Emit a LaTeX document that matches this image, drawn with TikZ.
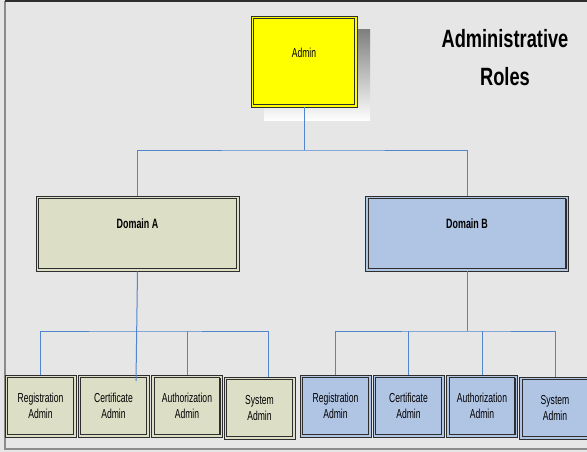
\documentclass[tikz,border=0pt]{standalone}
\usepackage{fontspec}
\setmainfont{Liberation Sans}
\newfontfamily\condfont[FakeStretch=0.66]{Liberation Sans}
\newfontfamily\titlefont[FakeStretch=0.73]{Liberation Sans}
\definecolor{bg}{HTML}{E6E6E6}
\definecolor{frame}{HTML}{2E2E2E}
\definecolor{wire}{HTML}{5286CC}
\definecolor{adminfill}{HTML}{FFFF00}
\definecolor{beige}{HTML}{DCDEC6}
\definecolor{steel}{HTML}{B0C4E4}
\definecolor{shade}{HTML}{C8C8C8}
\tikzset{
  orgbox/.style={rectangle, draw=frame, line width=0.8pt, inner sep=0pt,
    align=center, text=black,
    path picture={
      \coordinate (ppa) at ([shift={(2.6pt,2.6pt)}]path picture bounding box.south west);
      \coordinate (ppb) at ([shift={(-2.6pt,-2.6pt)}]path picture bounding box.north east);
      \draw[frame, line width=0.9pt] (ppa) rectangle (ppb);
      \draw[frame, line width=1.5pt] (ppa) -- (ppa -| ppb) -- (ppb);
    }},
  leafbox/.style={orgbox, minimum width=71pt, minimum height=62pt,
    font=\condfont\fontsize{13}{16}\selectfont},
  domainbox/.style={orgbox, minimum width=203pt, minimum height=75pt},
  conn/.style={draw=wire, line width=1pt},
  lbl/.style={inner sep=0pt, text=black}
}
\begin{document}
\begin{tikzpicture}[x=1pt, y=-1pt]
  \useasboundingbox (0,0) rectangle (587,452);
  \clip (0,0) rectangle (587,452);
  % page background and frame
  \fill[bg] (0,0) rectangle (587,452);
  \draw[black!45, line width=1.5pt] (5,1) -- (5,449) -- (590,449);
  \draw[frame, line width=1.5pt] (5,1) -- (590,1);

  % heading
  \node[lbl, anchor=base, font=\titlefont\bfseries\fontsize{25}{30}\selectfont] (title1) at (505,48) {Administrative};
  \node[lbl, anchor=base, font=\titlefont\bfseries\fontsize{25}{30}\selectfont] (title2) at (505,85) {Roles};

  % top role with drop shadow
  \fill[shade] (264,30) rectangle (370,121);
  \node[orgbox, fill=adminfill, minimum width=106pt, minimum height=91pt] (admin) at (304,61.5) {};
  \node[lbl, font=\condfont\fontsize{13}{16}\selectfont] (adminL) at ([yshift=8.5pt]admin.center) {Admin};

  % domains
  \node[domainbox, fill=beige] (domA) at (137.5,233.5) {};
  \node[lbl, font=\condfont\bfseries\fontsize{13.5}{16}\selectfont] (domAL) at ([yshift=9.5pt]domA.center) {Domain A};
  \node[domainbox, fill=steel] (domB) at (467,233.5) {};
  \node[lbl, font=\condfont\bfseries\fontsize{13.5}{16}\selectfont] (domBL) at ([yshift=9.5pt]domB.center) {Domain B};

  % role boxes under Domain A
  \node[leafbox, fill=beige] (regA)  at (40.5,406)  {Registration\\Admin};
  \node[leafbox, fill=beige] (certA) at (113.5,406) {Certificate\\Admin};
  \node[leafbox, fill=beige] (authA) at (187,406)   {Authorization\\Admin};
  \node[leafbox, fill=beige] (sysA)  at (259.5,408) {System\\Admin};

  % role boxes under Domain B
  \node[leafbox, fill=steel] (regB)  at (335.5,406) {Registration\\Admin};
  \node[leafbox, fill=steel] (certB) at (408.5,406) {Certificate\\Admin};
  \node[leafbox, fill=steel] (authB) at (482,406)   {Authorization\\Admin};
  \node[leafbox, fill=steel] (sysB)  at (555,408)   {System\\Admin};

  % bus points
  \coordinate (busTop) at (304,150);
  \coordinate (busA) at (137,331);
  \coordinate (busB) at (467,331);
  \coordinate (tailA) at (136,381);
  \coordinate (sysAin) at ([xshift=8.5pt]sysA.north);

  % connectors: admin to domains
  \draw[conn] (admin.south) -- (busTop);
  \draw[conn] (domA.north) |- (busTop) -| (domB.north);

  % connectors: Domain A to its roles
  \draw[conn] (domA.south) -- (tailA);
  \draw[conn] (regA.north) |- (busA) -| (sysAin);
  \draw[conn] (authA.north) -- (authA.north |- busA);

  % connectors: Domain B to its roles
  \draw[conn] (domB.south) -- (busB);
  \draw[conn] (regB.north) |- (busB) -| (sysB.north);
  \draw[conn] (certB.north) -- (certB.north |- busB);
  \draw[conn] (authB.north) -- (authB.north |- busB);
\end{tikzpicture}
\end{document}
